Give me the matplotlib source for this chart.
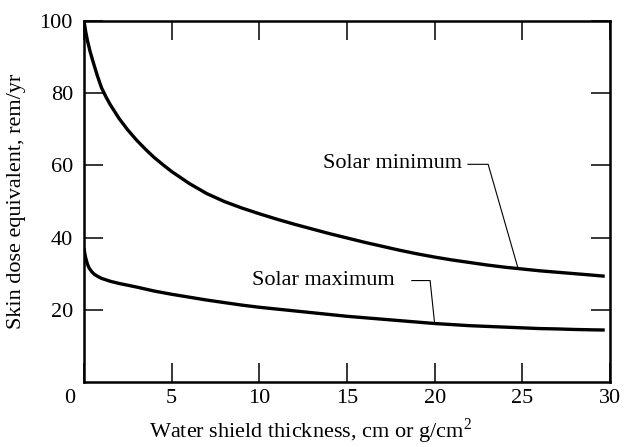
import matplotlib
matplotlib.use("Agg")
import matplotlib.pyplot as plt
import matplotlib.transforms as mtransforms

# Data
x_min = [0, 0.1, 0.2, 0.35, 0.5, 0.75, 1, 1.25, 1.5, 2, 2.5, 3, 3.5, 4, 4.5, 5, 6, 7, 8, 9,
         10, 11, 12, 13, 14, 15, 16, 17, 18, 19, 20, 21, 22, 23, 24, 25, 26, 27, 28, 29, 29.7]
y_min = [100, 97, 94.5, 91.5, 89, 85, 81.5, 79, 76.8, 73, 69.8, 67, 64.5, 62.2, 60.2, 58.3, 55, 52.2, 50, 48.2,
         46.6, 45.1, 43.7, 42.4, 41.1, 39.9, 38.7, 37.6, 36.5, 35.5, 34.6, 33.8, 33.1, 32.4, 31.8, 31.3, 30.8, 30.4, 30, 29.6, 29.3]

x_max = [0, 0.05, 0.1, 0.2, 0.3, 0.45, 0.6, 0.8, 1, 1.5, 2, 2.5, 3, 4, 5, 6, 7, 8, 9,
         10, 11, 12, 13, 14, 15, 16, 17, 18, 19, 20, 21, 22, 23, 24, 25, 26, 27, 28, 29, 29.7]
y_max = [37, 35.5, 34.3, 32.6, 31.5, 30.5, 29.8, 29.2, 28.7, 27.9, 27.3, 26.8, 26.3, 25.2, 24.3, 23.5, 22.7, 22, 21.3,
         20.7, 20.2, 19.7, 19.2, 18.7, 18.2, 17.8, 17.4, 17, 16.6, 16.2, 15.9, 15.6, 15.4, 15.2, 15, 14.8, 14.7, 14.55, 14.45, 14.4]

x_ticks = [0, 5, 10, 15, 20, 25, 30]
x_ticklabels = ["0", "5", "10", "15", "20", "25", "30"]
y_ticks = [20, 40, 60, 80, 100]
y_ticklabels = ["20", "40", "60", "80", "100"]

label_min = "Solar minimum"
label_max = "Solar maximum"
xlabel = "Water shield thickness, cm or g/cm$^2$"
ylabel = "Skin dose equivalent, rem/yr"

plt.rcParams['font.family'] = ['Liberation Serif', 'DejaVu Serif']
plt.rcParams['mathtext.fontset'] = 'custom'
plt.rcParams['mathtext.rm'] = 'Liberation Serif'

fs = 16
fig = plt.figure(figsize=(6.25, 4.47), dpi=100)
ax = fig.add_axes([84/625, 1-382/447, (610-84)/625, (382-21)/447])

ax.plot(x_min, y_min, color='black', lw=2.4, solid_capstyle='butt', solid_joinstyle='round')
ax.plot(x_max, y_max, color='black', lw=2.4, solid_capstyle='butt', solid_joinstyle='round')

ax.set_xlim(0, 30)
ax.set_ylim(0, 100)

for s in ax.spines.values():
    s.set_linewidth(1.8)

ax.set_xticks(x_ticks)
ax.set_xticklabels(x_ticklabels, fontsize=fs)
ax.set_yticks(y_ticks)
ax.set_yticklabels(y_ticklabels, fontsize=fs)
ax.tick_params(axis='both', direction='in', length=14, width=1.1,
               top=True, right=True, pad=5)
ax.tick_params(axis='y', pad=8)

# shift the "0" label slightly left
lbl0 = ax.get_xticklabels()[0]
lbl0.set_transform(lbl0.get_transform() + mtransforms.ScaledTranslation(-14/100, 0, fig.dpi_scale_trans))

fig.text(310/625, 1-431/447, xlabel, ha='center', va='center', fontsize=fs)
fig.text(17/625, 0.5*(2-21/447-382/447), ylabel, ha='center', va='center',
         rotation=90, fontsize=fs)

# annotations
ax.text(21.56, 59.2, label_min, ha='right', va='baseline', fontsize=fs)
ax.plot([21.9, 23.05, 24.76], [60.3, 60.3, 31.4], color='black', lw=0.8)
ax.text(9.58, 26.9, label_max, ha='left', va='baseline', fontsize=fs)
ax.plot([18.7, 19.74, 20.0], [28.1, 28.1, 16.1], color='black', lw=0.8)

fig.savefig("out.png", dpi=100)
